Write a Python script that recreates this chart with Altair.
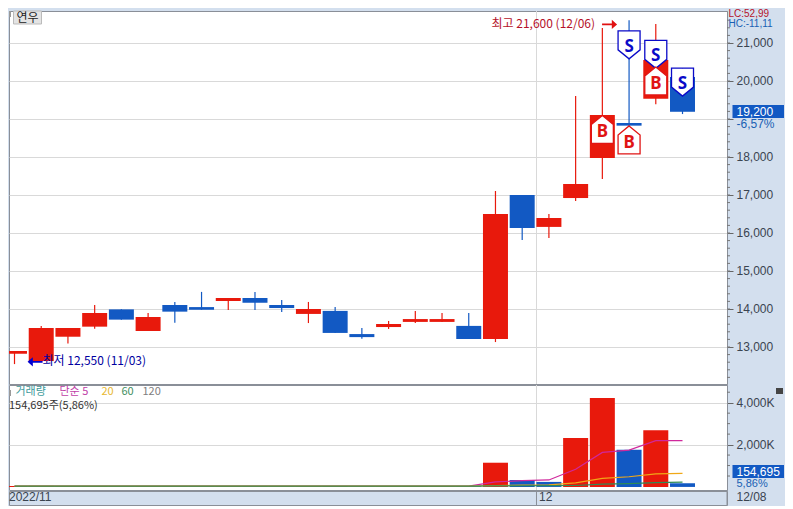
import altair as alt
import pandas as pd

# ---- price data ----
dates = ["11/03","11/04","11/07","11/08","11/09","11/10","11/11","11/14","11/15","11/16",
         "11/17","11/18","11/21","11/22","11/23","11/24","11/25","11/28","11/29","11/30",
         "12/01","12/02","12/05","12/06","12/07","12/08"]
body_top = [12895,13500,13500,13895,13990,13790,14105,14050,14290,14290,
            14105,14000,13950,13340,13605,13735,13735,13555,16500,17000,
            16395,17290,19105,18895,20550,20105]
body_bot = [12824,12630,13270,13535,13720,13420,13930,13980,14210,14165,
            14025,13870,13370,13260,13525,13660,13660,13210,13210,16130,
            16160,16920,17975,18825,19530,19190]
high = [12895,13553,13500,14105,13990,13895,14185,14450,14290,14450,
        14235,14185,14050,13500,13685,13950,13895,13895,17105,17000,
        16500,19605,21395,21600,21500,20340]
low = [12550,12630,13090,13480,13720,13420,13640,13980,13975,13975,
       13920,13630,13370,13220,13475,13630,13660,13210,13130,15815,
       15870,16840,17420,18825,19390,19130]
direction = ["up","up","up","up","down","up","down","down","up","down",
             "down","up","down","down","up","up","up","down","up","down",
             "up","up","up","down","up","down"]
# ---- volume (thousands) ----
volume = [25,30,20,25,15,20,15,20,15,15,15,15,25,15,10,15,15,20,1135,312,219,2312,4219,1753,2684,155]
vol_dir = ["up","up","up","up","down","up","down","down","up","down",
           "down","up","down","down","up","up","up","down","up","down",
           "down","up","up","down","up","down"]
ma5 = [20,20,20,20,20,20,20,20,20,20,20,20,20,20,20,20,20,20,218,280,312,823,1628,1739,2186,2186]
ma20 = [20,20,20,20,20,20,20,20,20,20,20,20,20,20,20,20,20,20,47,62,79,172,390,465,605,623]
ma60 = [20,20,20,20,20,20,20,20,20,20,20,20,20,20,20,20,20,20,28,35,40,47,112,140,186,205]

# ---- signals ----
buy_slot = [22, 23, 24]
buy_price = [18725, 18450, 20000]
sell_slot = [23, 24, 25]
sell_price = [20950, 20700, 19970]

price_ticks = [13000,14000,15000,16000,17000,18000,19000,20000,21000]
price_minor = list(range(12200, 21800, 200))
vol_ticks = [2000,4000]
vol_minor = [500,1000,1500,2500,3000,3500,4500]

RED, BLUE = "#e8190c", "#1259c3"
GRID = "#d9d9d9"
PANEL = "#d3dfee"
AXIS = "#8a8f98"
FONT = "Noto Sans CJK KR"
NUM = "Liberation Sans"

slots = list(range(len(dates)))
df = pd.DataFrame(dict(slot=slots, date=dates, top=body_top, bot=body_bot, high=high, low=low,
                       dir=direction, vol=volume, vdir=vol_dir, base=[-20]*len(dates),
                       ma5=ma5, ma20=ma20, ma60=ma60))
xs = alt.Scale(domain=[-0.206, 26.665], nice=False, zero=False, padding=0)
X = alt.X("slot:Q", scale=xs, axis=None)
cs = alt.Color("dir:N", scale=alt.Scale(domain=["up","down"], range=[RED, BLUE]), legend=None)
W = 718
EXT = 56

def txt(label, px, py, color, size=12, font=FONT, align="left", weight="normal"):
    return alt.Chart(pd.DataFrame({"t":[label]})).mark_text(
        align=align, baseline="middle", fontSize=size, font=font, color=color,
        fontWeight=weight, clip=False).encode(text="t:N", x=alt.value(px), y=alt.value(py))

def box(x0, x1, y0, y1, color, stroke=None):
    kw = dict(stroke=stroke) if stroke else {}
    return alt.Chart(pd.DataFrame({"a":[0]})).mark_rect(color=color, clip=False, **kw).encode(
        x=alt.value(x0), x2=alt.value(x1), y=alt.value(y0), y2=alt.value(y1))

def minor(values, scale):
    return alt.Chart(pd.DataFrame({"m":values})).mark_rule(color="#777", clip=False).encode(
        y=alt.Y("m:Q", scale=scale), x=alt.value(W), x2=alt.value(W+3))

# ===== price panel =====
ys = alt.Scale(domain=[12026, 21842], nice=False, zero=False)
Y = alt.Y("high:Q", scale=ys, title=None,
          axis=alt.Axis(orient="right", values=price_ticks,
                        labelExpr="datum.value==19000 ? '' : format(datum.value,',')",
                        grid=True, gridColor=GRID,
                        domainColor=AXIS, tickColor="#666", tickSize=6, labelFontSize=12,
                        labelFont=NUM, labelColor="#3a4450", labelPadding=3, minExtent=EXT, maxExtent=EXT))
base = alt.Chart(df)
sep = alt.Chart(pd.DataFrame({"slot":[19.535]})).mark_rule(color=GRID).encode(x=alt.X("slot:Q", scale=xs, axis=None))
wick = base.mark_rule(strokeWidth=1.2, clip=True).encode(x=X, y=Y, y2="low:Q", color=cs)
body = base.mark_bar(size=25, orient="vertical", clip=True).encode(
    x=X, y=alt.Y("top:Q", scale=ys), y2="bot:Q", color=cs)

SHAPE_B = "M0,-1.27 L1,-0.45 L1,1.27 L-1,1.27 L-1,-0.45 Z"
SHAPE_S = "M-1,-1.27 L1,-1.27 L1,0.45 L0,1.27 L-1,0.45 Z"
def signal(slot_, price, letter, shape, color, dy):
    d = pd.DataFrame({"slot":slot_, "p":price, "l":[letter]*len(slot_)})
    pt = alt.Chart(d).mark_point(shape=shape, size=484, filled=True, fill="white", stroke=color,
                                 strokeWidth=1.3, opacity=1).encode(
        x=alt.X("slot:Q", scale=xs, axis=None), y=alt.Y("p:Q", scale=ys))
    tx = alt.Chart(d).mark_text(fontSize=17, fontWeight="bold", font="Noto Sans", color=color, dy=dy).encode(
        x=alt.X("slot:Q", scale=xs, axis=None), y=alt.Y("p:Q", scale=ys), text="l:N")
    return pt + tx

ARROW = "M-1,-0.12 L0.3,-0.12 L0.3,-0.62 L1,0 L0.3,0.62 L0.3,0.12 L-1,0.12 Z"
ARROW_L = "M1,-0.12 L-0.3,-0.12 L-0.3,-0.62 L-1,0 L-0.3,0.62 L-0.3,0.12 L1,0.12 Z"
hi_arrow = alt.Chart(pd.DataFrame({"slot":[22.27], "p":[21490]})).mark_point(
    shape=ARROW, size=225, filled=True, color="#e01010", opacity=1).encode(
    x=alt.X("slot:Q", scale=xs, axis=None), y=alt.Y("p:Q", scale=ys))
lo_arrow = alt.Chart(pd.DataFrame({"slot":[0.77], "p":[12610]})).mark_point(
    shape=ARROW_L, size=225, filled=True, color="#0000d0", opacity=1).encode(
    x=alt.X("slot:Q", scale=xs, axis=None), y=alt.Y("p:Q", scale=ys))

top = alt.layer(
    sep, wick, body, minor(price_minor, ys),
    signal(sell_slot, sell_price, "S", SHAPE_S, "#0a0ac8", 2),
    signal(buy_slot, buy_price, "B", SHAPE_B, "#e01414", 3),
    hi_arrow, lo_arrow,
    txt("최고 21,600 (12/06)", 482.5, 13, "#b5122a"),
    txt("최저 12,550 (11/03)", 33.5, 350, "#0000a0"),
    box(0, 2, 0, 6, "#9a9a9a"),
    box(4.5, 32.5, 0, 13, "#e4e4e4", "#bbbbbb"),
    txt("연우", 18.5, 7, "#222", align="center"),
    txt("LC:52,99", 719.5, 3, "#b5122a", size=10, font=NUM),
    txt("HC:-11,11", 719.5, 13, "#1a5fb4", size=10, font=NUM),
    box(723.5, 775, 94, 107, BLUE),
    txt("19,200", 727.5, 100.5, "white", font=NUM),
    txt("-6,57%", 727.5, 113, "#1a5fb4", font=NUM),
).resolve_scale(y="shared").properties(width=W, height=373)

# ===== volume panel =====
vs = alt.Scale(domain=[-167, 4844], nice=False, zero=False)
VY = alt.Y("vol:Q", scale=vs, title=None,
           axis=alt.Axis(orient="right", values=vol_ticks, labelExpr="format(datum.value,',')+'K'",
                         grid=True, gridColor=GRID, domainColor=AXIS, tickColor="#666", tickSize=6,
                         labelFontSize=12, labelFont=NUM, labelColor="#3a4450", labelPadding=3,
                         minExtent=EXT, maxExtent=EXT))
vb = alt.Chart(df)
vbars = vb.mark_bar(size=25, orient="vertical", clip=True).encode(
    x=X, y=VY, y2="base:Q",
    color=alt.Color("vdir:N", scale=alt.Scale(domain=["up","down"], range=[RED, BLUE]), legend=None))
def ma(col, color):
    return vb.mark_line(color=color, strokeWidth=1.2, clip=True).encode(x=X, y=alt.Y(col+":Q", scale=vs))
vsep = alt.Chart(pd.DataFrame({"slot":[19.535]})).mark_rule(color=GRID).encode(x=alt.X("slot:Q", scale=xs, axis=None))
bottom = alt.layer(
    vsep, vbars, minor(vol_minor, vs), ma("ma5", "#d0289c"), ma("ma20", "#f0a818"), ma("ma60", "#2e8b57"),
    box(0, 2, 5, 11, "#9a9a9a"),
    txt("거래량", 6.5, 7, "#3d9a9a", size=11),
    txt("단순 5", 50.5, 7, "#c040a8", size=11),
    txt("20", 92.5, 7, "#e8b830", size=11),
    txt("60", 112.5, 7, "#3f8f5f", size=11),
    txt("120", 133.5, 7, "#808080", size=11),
    txt("154,695주(5,86%)", 0, 21, "#333", size=11),
    box(723.5, 775, 80, 93, BLUE),
    txt("154,695", 727.5, 86.5, "white", font=NUM),
    txt("5,86%", 727.5, 99, "#1a5fb4", size=11, font=NUM),
    box(767, 774, 3, 9, "#444"),
).properties(width=W, height=105)

# ===== date strip =====
strip_ticks = pd.DataFrame({"slot":[19.535, 26.665]})
tick_rule = alt.Chart(strip_ticks).mark_rule(color=AXIS).encode(x=alt.X("slot:Q", scale=xs, axis=None))
strip = alt.layer(
    tick_rule,
    txt("2022/11", 0, 6, "#3a4450", font=NUM),
    txt("12", 530, 6, "#3a4450", font=NUM),
    txt("12/08", 727.5, 6, "#3a4450", font=NUM),
).properties(width=W, height=14, view=alt.ViewConfig(fill=PANEL, stroke=AXIS))

chart = alt.vconcat(top, bottom, strip, spacing=-2, padding=0, background=PANEL).configure_view(
    fill="white", stroke=AXIS)
chart.save("out.html", embed_options={"renderer": "svg", "actions": False})
